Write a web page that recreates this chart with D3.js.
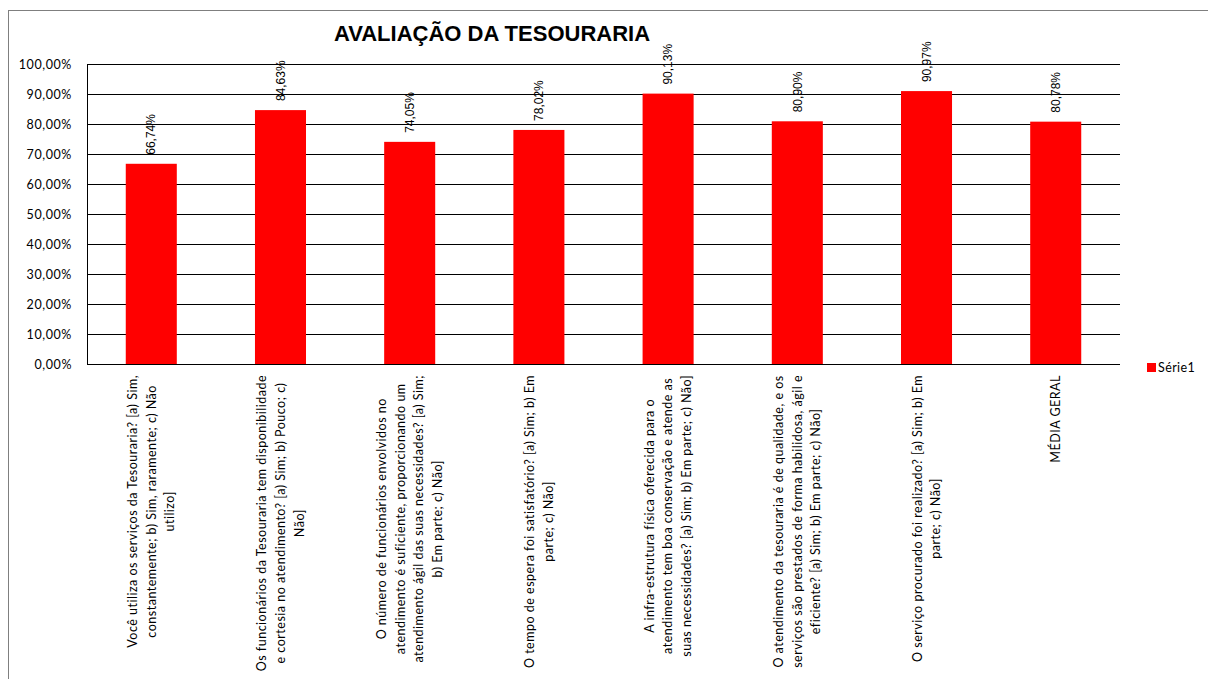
<!DOCTYPE html>
<html>
<head>
<meta charset="utf-8">
<script src="https://cdn.jsdelivr.net/npm/d3@7"></script>
<style>
  body { margin: 0; background: #fff; }
  svg { display: block; }
</style>
</head>
<body>
<svg id="drawing_region"></svg>
<script>
// data
const categories = [
    ["Você utiliza os serviços da Tesouraria? [a) Sim,", "constantemente; b) Sim, raramente; c) Não", "utilizo]"],
    ["Os funcionários da Tesouraria tem disponibilidade", "e cortesia no atendimento? [a) Sim; b) Pouco; c)", "Não]"],
    ["O número de funcionários envolvidos no", "atendimento é suficiente, proporcionando um", "atendimento ágil das suas necessidades? [a) Sim;", "b) Em parte; c) Não]"],
    ["O tempo de espera foi satisfatório? [a) Sim; b) Em", "parte; c) Não]"],
    ["A infra-estrutura física oferecida para o", "atendimento tem boa conservação e atende as", "suas necessidades? [a) Sim; b) Em parte; c) Não]"],
    ["O atendimento da tesouraria é de qualidade, e os", "serviços são prestados de forma habilidosa, ágil e", "eficiente? [a) Sim; b) Em parte; c) Não]"],
    ["O serviço procurado foi realizado? [a) Sim; b) Em", "parte; c) Não]"],
    ["MÉDIA GERAL"]
];
const values = [66.74, 84.63, 74.05, 78.02, 90.13, 80.90, 90.97, 80.78];
const yTicks = [0, 10, 20, 30, 40, 50, 60, 70, 80, 90, 100];
const seriesName = "Série1";
const chartTitle = "AVALIAÇÃO DA TESOURARIA";

const data = values.map((v, i) => ({ label: categories[i], value: v }));

class BarChart {

    constructor(config, data) {
        this.config = {
            parent: config.parent,
            width: config.width || 1208,
            height: config.height || 679,
            margin: config.margin || {top: 64, right: 88, bottom: 315, left: 87}
        };
        this.data = data;
        this.init();
    }

    init() {
        let self = this;

        self.svg = d3.select(self.config.parent)
            .attr('width', self.config.width)
            .attr('height', self.config.height);

        self.inner_width = self.config.width - self.config.margin.left - self.config.margin.right;
        self.inner_height = self.config.height - self.config.margin.top - self.config.margin.bottom;

        self.chart = self.svg.append('g')
            .attr('transform', `translate(${self.config.margin.left}, ${self.config.margin.top})`);

        self.xscale = d3.scaleBand()
            .domain(d3.range(self.data.length))
            .range([0, self.inner_width])
            .paddingInner(0.605)
            .paddingOuter(0.3);

        self.yscale = d3.scaleLinear()
            .domain([0, 100])
            .range([self.inner_height, 0]);

        self.fmt = v => d3.format('.2f')(v).replace('.', ',') + '%';
    }

    render() {
        let self = this;

        // outer frame
        self.svg.append('rect')
            .attr('x', 8.5).attr('y', 10.5)
            .attr('width', 1300).attr('height', 800)
            .attr('fill', 'none')
            .attr('stroke', '#7f7f7f');

        self.svg.append('text')
            .attr('x', 492).attr('y', 41)
            .attr('text-anchor', 'middle')
            .style('font-family', '"Liberation Sans", Arial, sans-serif')
            .style('font-weight', 'bold')
            .style('font-size', '22px')
            .text(chartTitle);

        // y axis with gridlines
        const yaxis = d3.axisLeft(self.yscale)
            .tickValues(yTicks)
            .tickSize(-self.inner_width)
            .tickPadding(15)
            .tickFormat(self.fmt);

        const yg = self.chart.append('g').call(yaxis);
        yg.select('.domain').remove();
        yg.selectAll('.tick line')
            .attr('stroke', '#000')
            .attr('shape-rendering', 'crispEdges');
        yg.selectAll('.tick text')
            .attr('fill', '#000')
            .style('font-family', 'Lato, sans-serif')
            .style('font-size', '12.5px')
            .style('letter-spacing', '0.6px');

        self.chart.append('line')
            .attr('x1', 0).attr('x2', 0)
            .attr('y1', 0).attr('y2', self.inner_height)
            .attr('stroke', '#000')
            .attr('shape-rendering', 'crispEdges');

        // bars
        self.chart.selectAll('rect.bar')
            .data(self.data)
            .enter()
            .append('rect')
            .attr('class', 'bar')
            .attr('x', (d, i) => self.xscale(i))
            .attr('y', d => self.yscale(d.value))
            .attr('width', self.xscale.bandwidth())
            .attr('height', d => self.inner_height - self.yscale(d.value))
            .attr('fill', '#ff0000');

        // value labels, rotated
        self.chart.selectAll('text.value')
            .data(self.data)
            .enter()
            .append('text')
            .attr('class', 'value')
            .attr('transform', (d, i) => `translate(${self.xscale(i) + self.xscale.bandwidth()/2}, ${self.yscale(d.value) - 9}) rotate(-90)`)
            .attr('dy', '0.35em')
            .style('font-family', '"Liberation Sans", Arial, sans-serif')
            .style('font-size', '12px')
            .text(d => self.fmt(d.value));

        // category labels, rotated, lines centred on the longest one
        const lineGap = 18.7;
        const labels = self.chart.selectAll('g.cat')
            .data(self.data)
            .enter()
            .append('g')
            .attr('class', 'cat');

        labels.each(function(d, i) {
            const g = d3.select(this);
            const n = d.label.length;
            const texts = g.selectAll('text')
                .data(d.label)
                .enter()
                .append('text')
                .attr('text-anchor', 'middle')
                .attr('dy', '0.35em')
                .style('font-family', 'Lato, sans-serif')
                .style('font-size', '12.5px')
                .style('letter-spacing', '0.5px')
                .text(t => t);
            let maxLen = 0;
            texts.each(function() { maxLen = Math.max(maxLen, this.getComputedTextLength()); });
            const cx = self.xscale(i) + self.xscale.bandwidth()/2;
            const cy = self.inner_height + 11 + maxLen/2;
            texts.attr('transform', (t, j) =>
                `translate(${cx + (j - (n - 1)/2) * lineGap}, ${cy}) rotate(-90)`);
        });

        // legend
        const lg = self.svg.append('g')
            .attr('transform', 'translate(1147, 363)');
        lg.append('rect')
            .attr('width', 9).attr('height', 9)
            .attr('fill', '#ff0000');
        lg.append('text')
            .attr('x', 11).attr('y', 4.5)
            .attr('dy', '0.35em')
            .style('font-family', 'Lato, sans-serif')
            .style('font-size', '12.5px')
            .style('letter-spacing', '0.4px')
            .text(seriesName);
    }
}

const barchart = new BarChart({ parent: '#drawing_region' }, data);
barchart.render();
</script>
</body>
</html>
